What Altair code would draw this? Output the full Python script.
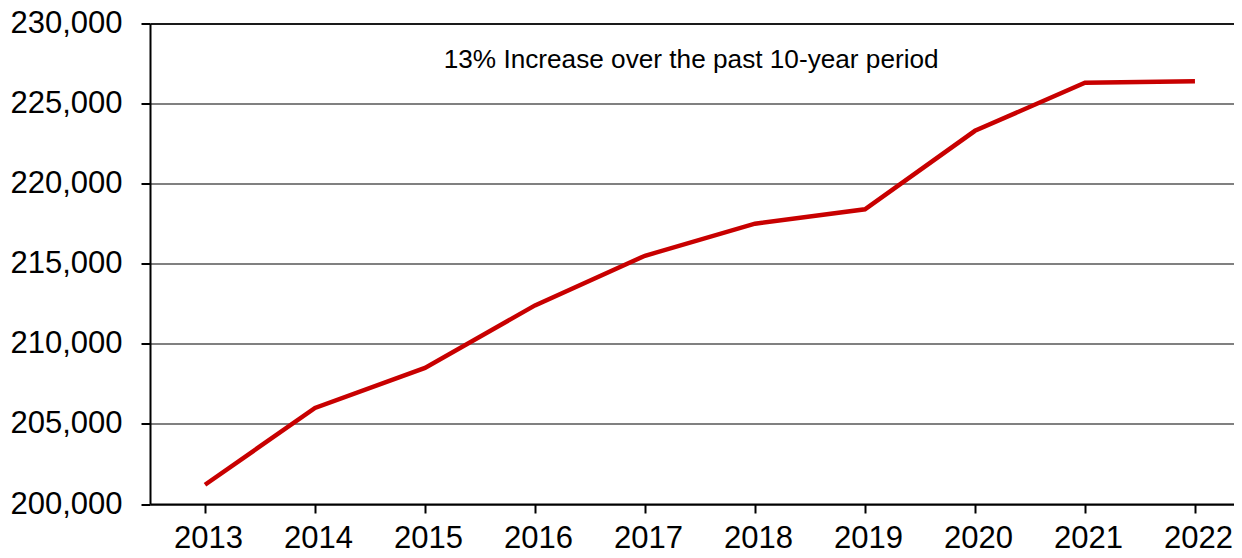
import altair as alt
import pandas as pd

# ---- data ----
years = [2013, 2014, 2015, 2016, 2017, 2018, 2019, 2020, 2021, 2022]
values = [201200, 206000, 208500, 212400, 215500, 217500, 218400, 223300, 226300, 226400]

y_ticks = [200000, 205000, 210000, 215000, 220000, 225000, 230000]
y_domain = [200000, 230000]
x_domain = [2012.5, 2022.355]

note_text = ["13% Increase over the past 10-year period"]
note_year = [2017.42]
note_value = [227200]

df = pd.DataFrame({"year": years, "value": values})
note = pd.DataFrame({"year": note_year, "value": note_value, "text": note_text})

FONT = "Liberation Sans"

x_enc = alt.X(
    "year:Q",
    scale=alt.Scale(domain=x_domain, nice=False, zero=False),
    axis=alt.Axis(
        values=years, format="d", grid=False, title=None,
        labelFont=FONT, labelFontSize=31, labelColor="black",
        labelPadding=10, labelOffset=3,
        tickSize=9, tickColor="black", tickWidth=2,
        domainColor="black", domainWidth=2,
    ),
)
y_enc = alt.Y(
    "value:Q",
    scale=alt.Scale(domain=y_domain, nice=False, zero=False),
    axis=alt.Axis(
        values=y_ticks, format=",d", title=None,
        labelFont=FONT, labelFontSize=31, labelColor="black",
        labelPadding=19,
        tickSize=9, tickColor="black", tickWidth=2,
        domainColor="black", domainWidth=2,
        grid=True,
        gridColor={"condition": {"test": "datum.value === 230000", "value": "#1a1a1a"},
                   "value": "#808080"},
        gridWidth=1.8,
    ),
)

line = alt.Chart(df).mark_line(color="#C80000", strokeWidth=4.5).encode(x=x_enc, y=y_enc)

text = alt.Chart(note).mark_text(
    font=FONT, fontSize=26.2, color="black", align="center", baseline="alphabetic"
).encode(x=alt.X("year:Q"), y=alt.Y("value:Q"), text="text:N")

chart = (
    alt.layer(line, text)
    .properties(
        width=1084,
        height=480.5,
        padding={"left": 142, "top": 15.5, "right": 0, "bottom": 50},
        autosize=alt.AutoSizeParams(type="none"),
        background="white",
    )
    .configure_view(stroke=None)
)

chart.save("out.html", embed_options={"renderer": "svg", "actions": False})
